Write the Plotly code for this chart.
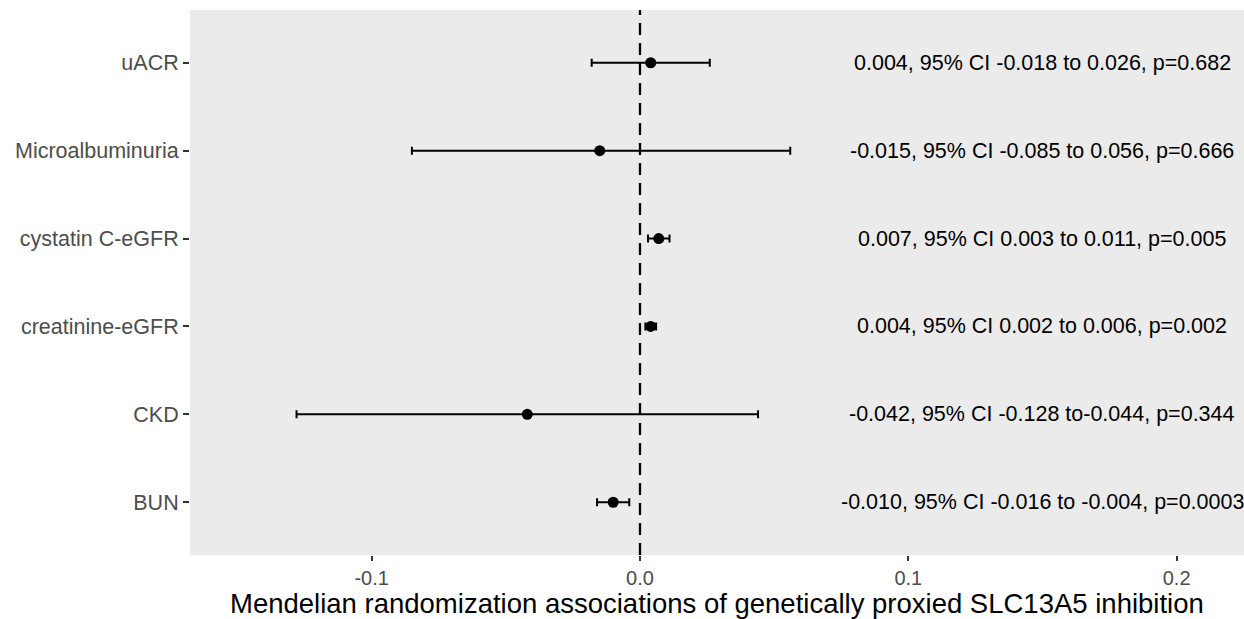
import plotly.graph_objects as go

outcomes = ["uACR", "Microalbuminuria", "cystatin C-eGFR", "creatinine-eGFR", "CKD", "BUN"]
estimates = [0.004, -0.015, 0.007, 0.004, -0.042, -0.010]
ci_low = [-0.018, -0.085, 0.003, 0.002, -0.128, -0.016]
ci_high = [0.026, 0.056, 0.011, 0.006, 0.044, -0.004]
labels = [
    "0.004, 95% CI -0.018 to 0.026, p=0.682",
    "-0.015, 95% CI -0.085 to 0.056, p=0.666",
    "0.007, 95% CI 0.003 to 0.011, p=0.005",
    "0.004, 95% CI 0.002 to 0.006, p=0.002",
    "-0.042, 95% CI -0.128 to-0.044, p=0.344",
    "-0.010, 95% CI -0.016 to -0.004, p=0.0003",
]
label_x = 0.15
x_ticks = [-0.1, 0.0, 0.1, 0.2]
x_tick_text = ["-0.1", "0.0", "0.1", "0.2"]
x_title = "Mendelian randomization associations of genetically proxied SLC13A5 inhibition"

FONT = "Liberation Sans, Arial, sans-serif"

fig = go.Figure()

# dashed reference line at 0
fig.add_shape(type="line", xref="x", yref="paper", x0=0, x1=0, y0=0, y1=1,
              line=dict(color="black", width=2.3, dash="12px,8px"), layer="below")

fig.add_trace(go.Scatter(
    x=estimates, y=outcomes, mode="markers",
    marker=dict(color="black", size=11),
    error_x=dict(type="data", symmetric=False,
                 array=[h - e for h, e in zip(ci_high, estimates)],
                 arrayminus=[e - l for e, l in zip(estimates, ci_low)],
                 color="black", thickness=2, width=4),
    showlegend=False, hoverinfo="skip",
))

for o, t in zip(outcomes, labels):
    fig.add_annotation(x=label_x, y=o, xref="x", yref="y", text=t, showarrow=False,
                       xanchor="center", yanchor="middle",
                       font=dict(family=FONT, size=21.5, color="black"))

# x-axis title placed as an annotation at the bottom of the page
fig.add_annotation(x=0.5, y=-64 / 545, xref="paper", yref="paper", text=x_title,
                   showarrow=False, xanchor="center", yanchor="bottom", yshift=-2,
                   font=dict(family=FONT, size=27.5, color="black"))

order = list(reversed(outcomes))
fig.update_layout(
    width=1244, height=619,
    margin=dict(l=190, r=0, t=10, b=64),
    paper_bgcolor="white", plot_bgcolor="#EBEBEB",
    font=dict(family=FONT),
    xaxis=dict(range=[-0.1677, 0.2251], tickvals=x_ticks, ticktext=x_tick_text,
               showgrid=False, zeroline=False, showline=False,
               ticks="outside", ticklen=5, tickwidth=2, tickcolor="#333333",
               tickfont=dict(family=FONT, size=20, color="#4D4D4D")),
    yaxis=dict(categoryorder="array", categoryarray=order, range=[-0.6, 5.6],
               showgrid=False, zeroline=False, showline=False,
               ticks="outside", ticklen=6, tickwidth=2, tickcolor="#333333",
               tickfont=dict(family=FONT, size=21.5, color="#4D4D4D")),
)

fig.write_html("out.html", config={"displayModeBar": False},
               post_script="document.body.style.margin='0';document.body.style.overflow='hidden';")
